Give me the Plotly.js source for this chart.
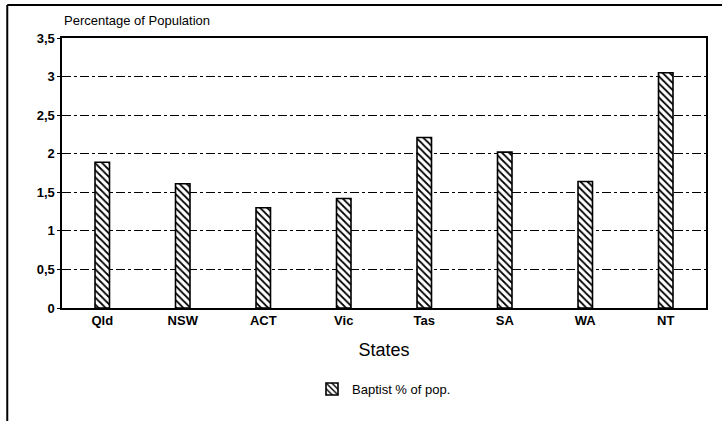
<!DOCTYPE html>
<html>
<head>
<meta charset="utf-8">
<script src="https://cdn.plot.ly/plotly-3.0.1.min.js"></script>
<style>
html,body{margin:0;padding:0;background:#fff;}
#chart{width:722px;height:421px;}
</style>
</head>
<body>
<div id="chart"></div>
<script>
var states = ["Qld", "NSW", "ACT", "Vic", "Tas", "SA", "WA", "NT"];
var baptistPct = [1.89, 1.61, 1.30, 1.42, 2.21, 2.02, 1.64, 3.05];
var yTickVals = [0, 0.5, 1, 1.5, 2, 2.5, 3, 3.5];
var yTickText = ["0", "0,5", "1", "1,5", "2", "2,5", "3", "3,5"];
var seriesName = "Baptist % of pop.";

var font = "Liberation Sans, Arial, sans-serif";

var trace = {
  type: "bar",
  x: states,
  y: baptistPct,
  name: seriesName,
  width: 0.18,
  marker: {
    color: "#ffffff",
    line: {color: "#000000", width: 1.6},
    pattern: {shape: "\\", fgcolor: "#000000", bgcolor: "#ffffff", size: 5, solidity: 0.35}
  },
  showlegend: true,
  hoverinfo: "x+y"
};

var layout = {
  width: 722,
  height: 421,
  margin: {l: 62, r: 16, t: 38, b: 113},
  paper_bgcolor: "#ffffff",
  plot_bgcolor: "#ffffff",
  font: {family: font, color: "#000000"},
  separators: ", ",
  xaxis: {
    type: "category",
    range: [-0.5, 7.5],
    showline: true,
    mirror: true,
    linecolor: "#000000",
    linewidth: 1.6,
    showgrid: false,
    ticks: "",
    tickfont: {family: font, size: 13, color: "#000000", weight: "bold"},
    title: {text: "States", font: {family: font, size: 18, color: "#000000"}, standoff: 16}
  },
  yaxis: {
    range: [0, 3.5],
    tickvals: yTickVals,
    ticktext: yTickText,
    showline: true,
    mirror: true,
    linecolor: "#000000",
    linewidth: 1.6,
    showgrid: true,
    gridcolor: "#000000",
    gridwidth: 1,
    griddash: "dashdot",
    zeroline: false,
    ticks: "outside",
    ticklen: 3,
    tickcolor: "#000000",
    tickfont: {family: font, size: 13, color: "#000000", weight: "bold"}
  },
  legend: {
    orientation: "h",
    x: 0.5,
    xanchor: "center",
    y: -0.3,
    yanchor: "middle",
    font: {family: font, size: 13, color: "#000000"}
  },
  annotations: [{
    text: "Percentage of Population",
    xref: "paper", yref: "paper",
    x: 0, y: 1.03,
    xanchor: "left", yanchor: "bottom",
    showarrow: false,
    font: {family: font, size: 13, color: "#000000"}
  }],
  shapes: [
    {type: "line", xref: "paper", yref: "paper", x0: -0.085, x1: 1.03, y0: 1.122, y1: 1.122,
     line: {color: "#000000", width: 2}},
    {type: "line", xref: "paper", yref: "paper", x0: -0.085, x1: -0.085, y0: 1.122, y1: -0.42,
     line: {color: "#000000", width: 2}}
  ]
};

Plotly.newPlot("chart", [trace], layout, {displayModeBar: false, staticPlot: true});
</script>
</body>
</html>
